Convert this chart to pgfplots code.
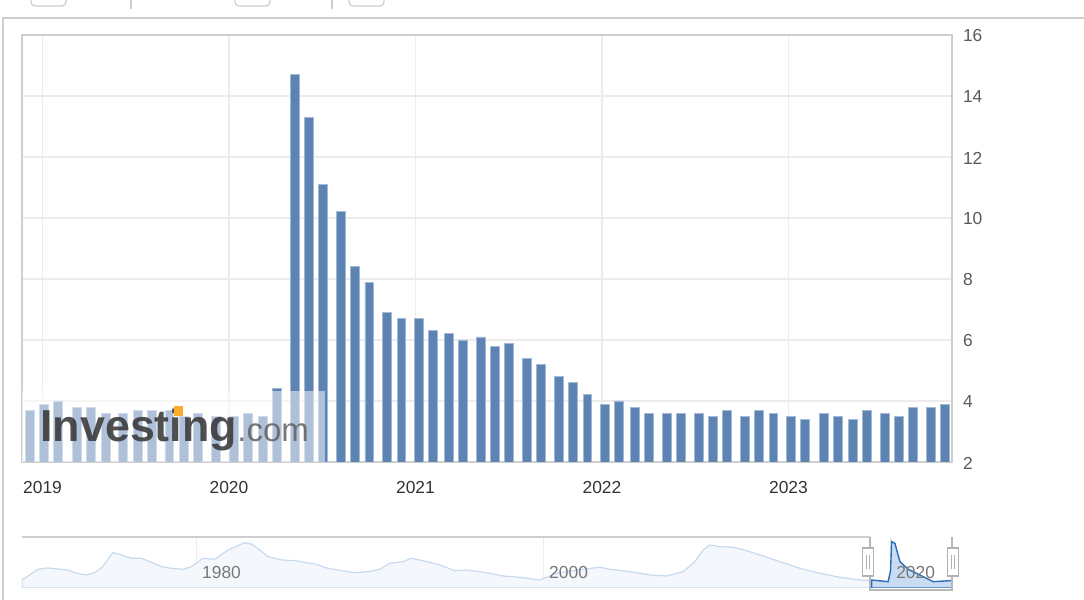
\documentclass[border=0pt]{standalone}
\usepackage{fontspec}
\setmainfont{Liberation Sans}
\usepackage{pgfplots}
\pgfplotsset{compat=1.18}
\definecolor{barblue}{RGB}{93,131,178}
\definecolor{baredge}{RGB}{160,186,216}
\definecolor{gridc}{RGB}{236,236,236}
\definecolor{framec}{RGB}{206,206,206}
\definecolor{navfill}{RGB}{244,248,253}
\definecolor{navline}{RGB}{200,218,238}
\definecolor{selfill}{RGB}{200,221,243}
\definecolor{selline}{RGB}{45,108,182}
\definecolor{labc}{RGB}{90,90,90}
\definecolor{navlab}{RGB}{120,120,120}
\definecolor{logoorange}{RGB}{250,172,45}
\begin{document}
\begin{tikzpicture}[x=0.5pt,y=0.5pt]
\path[use as bounding box] (0,0) rectangle (1084,600);
\fill[white] (0,0) rectangle (1084,600);
% page frame and toolbar fragments
\draw[framec, line width=0.7pt] (3,0) -- (3,582) -- (1084,582);
\draw[framec, line width=0.6pt, rounded corners=2pt] (31,601) -- (31,594) -- (66,594) -- (66,601);
\draw[framec, line width=0.6pt, rounded corners=2pt] (235,601) -- (235,594) -- (270,594) -- (270,601);
\draw[framec, line width=0.6pt, rounded corners=2pt] (349,601) -- (349,594) -- (384,594) -- (384,601);
\draw[framec, line width=0.6pt] (131,600) -- (131,591);
\draw[framec, line width=0.6pt] (332,600) -- (332,591);

% main chart
\begin{axis}[
  at={(11pt,69pt)}, anchor=south west, scale only axis,
  width=465pt, height=213.5pt,
  xmin=2018.890, xmax=2023.877, ymin=2, ymax=16,
  xtick={2019,2020,2021,2022,2023},
  xticklabels={2019,2020,2021,2022,2023},
  ytick={2,4,6,8,10,12,14,16},
  yticklabel pos=right,
  /pgf/number format/assume math mode=true,
  major tick length=0pt,
  grid=major, grid style={gridc, line width=0.7pt},
  axis line style={framec, line width=0.8pt},
  tick label style={font=\fontsize{8.7}{10}\selectfont},
  xticklabel style={anchor=center, yshift=-13pt, text=black!80},
  yticklabel style={text=labc, xshift=2pt, yshift=-0.5pt},
]
\addplot[ybar, bar width=4.4pt, fill=barblue, draw=baredge, line width=0.4pt] table {
x y
2018.9331 3.7
2019.0082 3.9
2019.0833 4.0
2019.1859 3.8
2019.2610 3.8
2019.3388 3.6
2019.4331 3.6
2019.5110 3.7
2019.5860 3.7
2019.6804 3.7
2019.7582 3.5
2019.8333 3.6
2019.9304 3.5
2020.0247 3.5
2020.0997 3.6
2020.1804 3.5
2020.2555 4.4
2020.3525 14.7
2020.4277 13.3
2020.5027 11.1
2020.5997 10.2
2020.6749 8.4
2020.7527 7.9
2020.8470 6.9
2020.9249 6.7
2021.0192 6.7
2021.0943 6.3
2021.1777 6.2
2021.2527 6.0
2021.3497 6.1
2021.4249 5.8
2021.5027 5.9
2021.5970 5.4
2021.6722 5.2
2021.7692 4.8
2021.8443 4.6
2021.9222 4.2
2022.0164 3.9
2022.0915 4.0
2022.1749 3.8
2022.2500 3.6
2022.3470 3.6
2022.4222 3.6
2022.5192 3.6
2022.5943 3.5
2022.6694 3.7
2022.7664 3.5
2022.8415 3.7
2022.9194 3.6
2023.0137 3.5
2023.0888 3.4
2023.1914 3.6
2023.2664 3.5
2023.3443 3.4
2023.4194 3.7
2023.5164 3.6
2023.5915 3.5
2023.6667 3.8
2023.7637 3.8
2023.8388 3.9
};
\fill[white, opacity=0.5] (axis cs:2018.80,1.5) rectangle (axis cs:2020.515,4.33);
\end{axis}

% watermark logo
\node[anchor=base west, inner sep=0pt, text=black!78, opacity=0.88] at (40,158)
  {\fontsize{22.4}{22.4}\selectfont\bfseries Investing};
\node[anchor=base west, inner sep=0pt, text=black!62, opacity=0.85] at (237,158)
  {\fontsize{16.5}{16.5}\selectfont .com};
\fill[logoorange] (174,184) rectangle (183,194);

% navigator
\begin{axis}[
  at={(11pt,6pt)}, anchor=south west, scale only axis,
  width=465pt, height=25.5pt,
  xmin=1969.93, xmax=2023.52, ymin=2.17, ymax=11.86,
  axis line style={draw=none},
  ytick=\empty,
  xtick={1980,2000,2020}, xticklabels={},
  major tick length=0pt,
  xmajorgrids, grid style={gridc, line width=0.6pt},
]
\addplot[fill=navfill, draw=navline, line width=0.6pt] coordinates {
(1969.93,3.69) (1970.85,5.72) (1971.41,5.97) (1972.56,5.59) (1973.07,4.96) (1973.64,4.64)
(1974.12,5.08) (1974.58,6.22) (1975.16,8.88) (1975.66,8.44) (1976.24,7.81) (1976.81,7.81)
(1977.39,7.05) (1977.97,6.22) (1978.54,5.91) (1979.21,5.72) (1979.69,6.22) (1980.36,7.81)
(1981.04,7.62) (1981.80,9.39) (1982.77,10.78) (1983.15,10.53) (1983.63,9.39) (1984.11,8.12)
(1984.88,7.49) (1985.65,7.36) (1986.22,7.05) (1986.80,6.73) (1987.57,5.91) (1988.34,5.46)
(1989.11,5.08) (1989.87,5.27) (1990.55,5.72) (1991.12,6.86) (1991.89,7.17) (1992.37,7.81)
(1993.04,7.36) (1994.01,6.54) (1994.87,5.46) (1995.54,5.59) (1996.70,5.08) (1997.65,4.45)
(1998.62,4.20) (1999.77,3.69) (2000.73,4.96) (2001.88,5.59) (2003.23,6.10) (2003.80,5.72)
(2004.96,5.27) (2006.11,4.64) (2007.07,4.45) (2008.03,5.27) (2008.70,7.17) (2009.18,9.39)
(2009.57,10.34) (2010.14,10.02) (2010.91,9.90) (2011.68,9.26) (2012.64,8.25) (2013.60,7.17)
(2014.76,5.91) (2015.91,4.96) (2017.06,4.20) (2018.21,3.69) (2018.79,3.56)
} \closedcycle;
\addplot[fill=selfill, draw=selline, line width=0.7pt] coordinates {
(2018.89,3.69) (2019.84,3.37) (2019.98,5.5) (2020.04,10.97) (2020.23,10.66) (2020.52,7.17)
(2021.00,5.72) (2021.67,4.64) (2022.44,3.37) (2023.40,3.56) (2023.52,3.62)
} \closedcycle;
\node[anchor=west, inner sep=0pt, xshift=2.5pt, text=navlab, font=\fontsize{8.7}{10}\selectfont] at (axis cs:1980,5.02) {1980};
\node[anchor=west, inner sep=0pt, xshift=2.5pt, text=navlab, font=\fontsize{8.7}{10}\selectfont] at (axis cs:2000,5.02) {2000};
\node[anchor=west, inner sep=0pt, xshift=2.5pt, text=navlab, font=\fontsize{8.7}{10}\selectfont] at (axis cs:2020,5.02) {2020};
\end{axis}

% navigator frame and handles
\draw[framec, line width=1pt] (22,63) -- (870,63);
\draw[gray!55, line width=0.6pt] (870,63) -- (870,10) -- (952,10) -- (952,63);
\foreach \hx in {868,953}{
  \filldraw[fill=white, draw=gray!60, line width=0.6pt] (\hx-5.5,24) rectangle (\hx+5.5,52);
  \draw[gray!60, line width=0.5pt] (\hx-1.5,31) -- (\hx-1.5,45) (\hx+1.5,31) -- (\hx+1.5,45);
}
\end{tikzpicture}
\end{document}
